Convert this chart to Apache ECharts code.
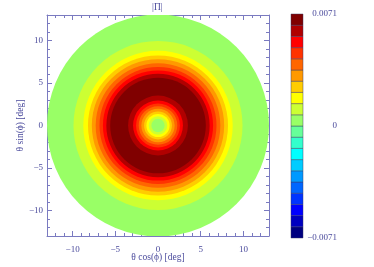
<!DOCTYPE html>
<html>
<head>
<meta charset="utf-8">
<script src="https://cdn.jsdelivr.net/npm/echarts@6/dist/echarts.min.js"></script>
<style>
  html, body { margin: 0; padding: 0; background: #fff; }
  #chart { width: 374px; height: 267px; }
</style>
</head>
<body>
<div id="chart"></div>
<script>
// colour levels, bottom (-0.0071) to top (+0.0071)
const levelColors = ['#000080', '#0000c0', '#0000ff', '#0033ff', '#0066ff', '#0099ff', '#00ccff', '#00ffff', '#33ffcc', '#66ff99',
  '#99ff66', '#ccff33', '#ffff00', '#ffcc00', '#ff9900', '#ff6600', '#ff3300', '#ff0000', '#b00000', '#800000'];
const levelMin = -0.0071;
const levelMax = 0.0071;
const levelStep = (levelMax - levelMin) / levelColors.length;

// outer radius of each ring [deg], outermost first
const ringRadius = [13, 9.9, 8.75, 8.2, 7.75, 7.3, 6.85, 6.45, 6.05, 5.6, 3.5, 2.92, 2.57, 2.26, 1.95, 1.63, 1.36, 1.09, 0.78];
// |Pi| inside each ring
const ringValue = [0.0003, 0.0011, 0.0018, 0.0025, 0.0032, 0.0039, 0.0046, 0.0053, 0.006, 0.0068,
  0.006, 0.0053, 0.0046, 0.0039, 0.0032, 0.0025, 0.0018, 0.0011, 0.0003];

const axisMin = -13;
const axisMax = 13;

const textColor = '#4a4a9c';
const lineColor = '#7a7ac0';
const font = 'Liberation Serif';

const colorOf = (v) => {
  let i = Math.floor((v - levelMin) / levelStep);
  i = Math.max(0, Math.min(levelColors.length - 1, i));
  return levelColors[i];
};

const fmtTick = (v) => {
  if (Math.abs(v) === 13) return '';
  return v < 0 ? '\u2212' + Math.abs(v) : String(v);
};

const boxAxis = (extra) => Object.assign({
  gridIndex: 0,
  type: 'value',
  min: axisMin,
  max: axisMax,
  axisLine: { show: true, onZero: false, lineStyle: { color: lineColor, width: 1 } },
  axisTick: { show: true, inside: true, length: 5, lineStyle: { color: lineColor } },
  minorTick: { show: true, splitNumber: 5, length: 3, lineStyle: { color: lineColor } },
  splitLine: { show: false },
  axisLabel: { show: false },
}, extra);

const labelStyle = { color: textColor, fontFamily: font, fontSize: 9 };
const nameStyle = { color: textColor, fontFamily: font, fontSize: 9.5 };

const chart = echarts.init(document.getElementById('chart'));
chart.setOption({
  animation: false,
  backgroundColor: '#fff',
  title: {
    text: '|\u03a0|',
    left: 152,
    top: 2,
    padding: 0,
    textStyle: { color: textColor, fontFamily: font, fontSize: 9.5, fontWeight: 'normal' },
  },
  grid: [
    { left: 47, top: 15, width: 222, height: 222 },
    { left: 291, top: 14, width: 12, height: 224 },
  ],
  xAxis: [
    boxAxis({
      position: 'bottom',
      axisLabel: Object.assign({ show: true, margin: 9, formatter: fmtTick }, labelStyle),
      name: '\u03b8 cos(\u03d5) [deg]',
      nameLocation: 'middle',
      nameGap: 16,
      nameMoveOverlap: false,
      nameTextStyle: nameStyle,
    }),
    boxAxis({ position: 'top' }),
    { gridIndex: 1, type: 'value', min: 0, max: 1, show: false },
  ],
  yAxis: [
    boxAxis({
      position: 'left',
      axisLabel: Object.assign({ show: true, margin: 4, formatter: fmtTick }, labelStyle),
      name: '\u03b8 sin(\u03d5) [deg]',
      nameLocation: 'middle',
      nameGap: 22,
      nameRotate: 90,
      nameMoveOverlap: false,
      nameTextStyle: nameStyle,
    }),
    boxAxis({ position: 'right' }),
    {
      gridIndex: 1,
      type: 'value',
      position: 'right',
      min: levelMin,
      max: levelMax,
      interval: levelMax,
      axisLine: { show: false },
      axisTick: { show: false },
      splitLine: { show: false },
      axisLabel: Object.assign({
        margin: 34,
        align: 'right',
        formatter: (v) => (Math.abs(v) < 1e-9 ? '0' : (v < 0 ? '\u22120.0071' : '0.0071')),
      }, labelStyle),
    },
  ],
  series: [
    {
      // concentric rings of the map
      type: 'custom',
      xAxisIndex: 0,
      yAxisIndex: 0,
      clip: true,
      data: ringRadius.map((r, i) => [r, ringValue[i]]),
      renderItem: (params, api) => {
        const c = api.coord([0, 0]);
        const r = api.size([api.value(0), 0])[0];
        return {
          type: 'circle',
          shape: { cx: c[0], cy: c[1], r: r },
          style: { fill: colorOf(api.value(1)) },
        };
      },
    },
    {
      // colour bar
      type: 'custom',
      xAxisIndex: 2,
      yAxisIndex: 2,
      data: levelColors.map((c, i) => [levelMin + i * levelStep, levelMin + (i + 1) * levelStep, i]),
      encode: { x: -1, y: [0, 1] },
      renderItem: (params, api) => {
        const p0 = api.coord([0, api.value(1)]);
        const p1 = api.coord([1, api.value(0)]);
        return {
          type: 'rect',
          shape: { x: p0[0], y: p0[1], width: p1[0] - p0[0], height: p1[1] - p0[1] },
          style: { fill: levelColors[api.value(2)], stroke: 'rgba(60,60,100,0.45)', lineWidth: 1 },
        };
      },
    },
  ],
});
</script>
</body>
</html>
